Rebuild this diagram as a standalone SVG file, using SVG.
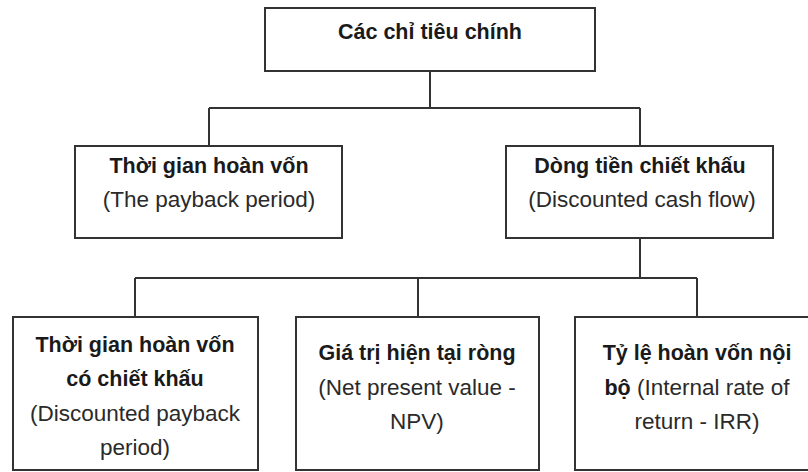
<svg xmlns="http://www.w3.org/2000/svg" width="808" height="472" viewBox="0 0 808 472">
  <style>
    .box { fill: #ffffff; stroke: #333333; stroke-width: 2; }
    .link { fill: none; stroke: #333333; stroke-width: 2; }
    text { font-family: "Liberation Sans", Arial, sans-serif; fill: #1a1a1a; text-anchor: middle; }
    .b { font-weight: bold; font-size: 21.5px; }
    .r { font-weight: normal; font-size: 22.5px; fill: #2a2a2a; }
  </style>
  <rect width="808" height="472" fill="#ffffff"/>

  <!-- connectors -->
  <g id="connectors">
    <path class="link" d="M430 71 V108 M209 108 H640 M209 108 V146 M640 108 V146"/>
    <path class="link" d="M640 238 V278 M135 278 H697 M135 278 V317 M418 278 V317 M697 278 V317"/>
  </g>

  <!-- root -->
  <g id="root">
    <rect class="box" x="265" y="8" width="330" height="63"/>
    <text class="b" x="430" y="39">Các chỉ tiêu chính</text>
  </g>

  <!-- second level -->
  <g id="payback">
    <rect class="box" x="75" y="146" width="267" height="92"/>
    <text class="b" x="209" y="173">Thời gian hoàn vốn</text>
    <text class="r" x="209" y="207">(The payback period)</text>
  </g>
  <g id="dcf">
    <rect class="box" x="506" y="146" width="267" height="92"/>
    <text class="b" x="640" y="173">Dòng tiền chiết khấu</text>
    <text class="r" x="642" y="207">(Discounted cash flow)</text>
  </g>

  <!-- third level -->
  <g id="discounted-payback">
    <rect class="box" x="13" y="317" width="245" height="153"/>
    <text class="b" x="135" y="352">Thời gian hoàn vốn</text>
    <text class="b" x="135" y="386">có chiết khấu</text>
    <text class="r" x="135" y="421">(Discounted payback</text>
    <text class="r" x="135" y="455">period)</text>
  </g>
  <g id="npv">
    <rect class="box" x="296" y="317" width="243" height="153"/>
    <text class="b" x="417" y="360">Giá trị hiện tại ròng</text>
    <text class="r" x="417" y="395">(Net present value -</text>
    <text class="r" x="417" y="429">NPV)</text>
  </g>
  <g id="irr">
    <rect class="box" x="575" y="317" width="240" height="153"/>
    <text class="b" x="697" y="360">Tỷ lệ hoàn vốn nội</text>
    <text x="697" y="395"><tspan class="b">bộ</tspan><tspan class="r"> (Internal rate of</tspan></text>
    <text class="r" x="697" y="429">return - IRR)</text>
  </g>
</svg>
